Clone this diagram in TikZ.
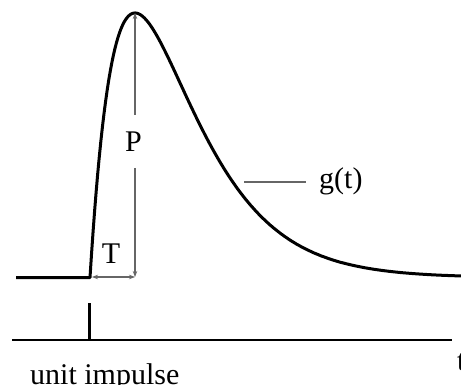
\documentclass[tikz,border=0pt]{standalone}
\usepackage{fontspec}
\setmainfont{Liberation Serif}
\usetikzlibrary{arrows.meta}
\begin{document}
\begin{tikzpicture}[x=1pt,y=-1pt,
  curve/.style={line width=3pt,line join=round},
  thin/.style={line width=1.4pt},
  dim/.style={line width=1.1pt,draw=black!60},
  lbl/.style={inner sep=0pt,font=\fontsize{30}{34}\selectfont},
  tip/.style={-{Stealth[length=6pt,width=4.5pt]}}]
\useasboundingbox (0,0) rectangle (461,385);
\clip (0,0) rectangle (461,385);
% coordinates
\coordinate (start) at (16,277.5);
\coordinate (onset) at (90,277.5);
\coordinate (peak) at (135,13);
\coordinate (foot) at (135,277);
\coordinate (tl) at (92,277);
\coordinate (pgapTop) at (135,115);
\coordinate (pgapBot) at (135,168);
% response curve
\draw[curve] (start) -- (onset)
  -- plot[domain=0:8.25,samples=240,variable=\u]
  ({90+45*\u},{277.5-264.5*\u*exp(1-\u)});
% P dimension
\draw[dim,tip] (pgapTop) -- (peak);
\draw[dim,tip] (pgapBot) -- (foot);
\node[lbl,anchor=base] (P) at (133.5,152) {P};
% T dimension
\draw[dim,{Stealth[length=6pt,width=4.5pt]}-{Stealth[length=6pt,width=4.5pt]}] (tl) -- (foot);
\node[lbl,anchor=base] (T) at (111,263) {T};
% g(t) label
\coordinate (gl) at (244,182);
\coordinate (gr) at (306,182);
\draw[dim] (gl) -- (gr);
\node[lbl,anchor=base west] (g) at (319,189) {g(t)};
% impulse
\coordinate (axl) at (12,340);
\coordinate (axr) at (452,340);
\draw[thin] (axl) -- (axr);
\coordinate (imptop) at (89,303);
\coordinate (impbot) at (89,340);
\draw[line width=3pt] (imptop) -- (impbot);
\node[lbl,anchor=base west] (ui) at (30,384) {unit impulse};
\node[lbl,anchor=base west] (t) at (457,370) {t};
\end{tikzpicture}
\end{document}
